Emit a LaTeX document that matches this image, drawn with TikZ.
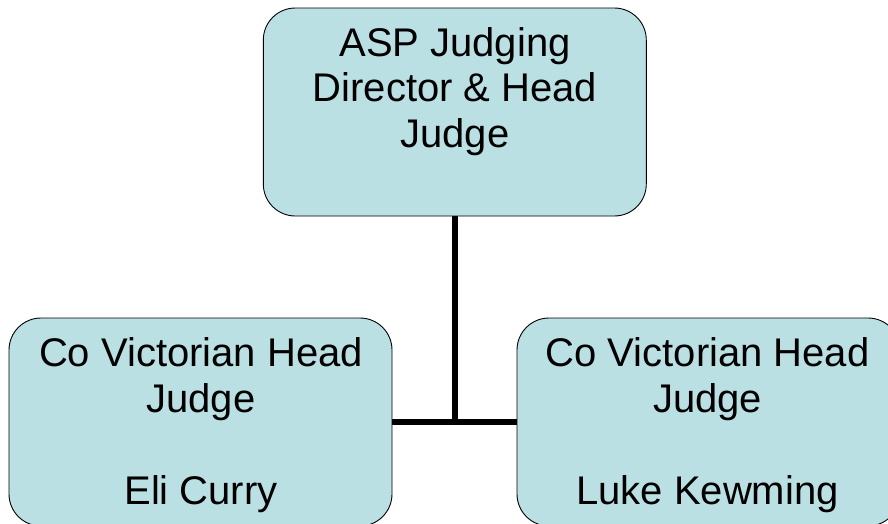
\documentclass[tikz,border=0pt]{standalone}
\usepackage{fontspec}
\setmainfont{Liberation Sans}
\definecolor{boxfill}{HTML}{BBE0E3}
\begin{document}
\begin{tikzpicture}[x=1pt,y=-1pt,
  box/.style={draw=black,line width=0.9pt,fill=boxfill,rounded corners=32pt,
    minimum width=383pt,minimum height=208pt,inner sep=0pt},
  lbl/.style={anchor=north,align=center,inner sep=0pt},
  toplbl/.style={lbl,font=\fontsize{40}{45.5}\selectfont},
  sublbl/.style={lbl,font=\fontsize{40}{46}\selectfont},
  conn/.style={line width=5.6pt}]
\useasboundingbox (0,0) rectangle (888,523);
\clip (0,0) rectangle (888,523);
\node[box] (top) at (454.8,112) {};
\node[box] (left) at (200.5,422) {};
\node[box] (right) at (708.5,422) {};
\draw[conn] (top.south) -- (top.south |- left.east);
\draw[conn] (left.east) -- (right.west);
\node[toplbl] (toptext) at (455,27) {ASP Judging\\Director \& Head\\Judge};
\node[sublbl] (lefttext) at (201,337) {Co Victorian Head\\Judge\\[46pt]Eli Curry};
\node[sublbl] (righttext) at (707.5,337) {Co Victorian Head\\Judge\\[46pt]Luke Kewming};
\end{tikzpicture}
\end{document}
